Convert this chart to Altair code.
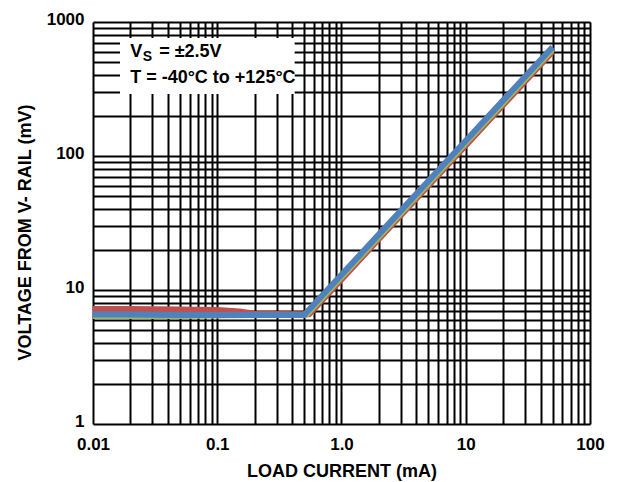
import altair as alt
import pandas as pd

# ---- axis ticks / labels ----
x_grid = [0.01, 0.02, 0.03, 0.04, 0.05, 0.06, 0.07, 0.08, 0.09,
          0.1, 0.2, 0.3, 0.4, 0.5, 0.6, 0.7, 0.8, 0.9,
          1, 2, 3, 4, 5, 6, 7, 8, 9,
          10, 20, 30, 40, 50, 60, 70, 80, 90, 100]
x_label_values = [0.01, 0.1, 1, 10, 100]
x_label_texts = ["0.01", "0.1", "1.0", "10", "100"]

y_grid = [1, 2, 3, 4, 5, 6, 7, 8, 9,
          10, 20, 30, 40, 50, 60, 70, 80, 90,
          100, 200, 300, 400, 500, 600, 700, 800, 900, 1000]
y_label_values = [1, 10, 100, 1000]
y_label_texts = ["1", "10", "100", "1000"]

# ---- series (load current mA, voltage from V- rail mV) ----
red_current = [0.01, 0.02, 0.05, 0.1, 0.15, 0.2, 0.55, 1, 2, 5, 10, 20, 50]
red_voltage = [7.2, 7.2, 7.15, 7.1, 6.9, 6.65, 6.6, 12, 24, 60, 120, 240, 600]

green_current = [0.01, 0.02, 0.05, 0.1, 0.2, 0.52, 1, 2, 5, 10, 20, 50]
green_voltage = [6.4, 6.4, 6.4, 6.45, 6.5, 6.5, 12.5, 25, 62.5, 125, 250, 625]

blue_current = [0.01, 0.02, 0.05, 0.1, 0.2, 0.5, 1, 2, 5, 10, 20, 50]
blue_voltage = [6.55, 6.55, 6.5, 6.5, 6.5, 6.5, 13, 26, 65, 130, 260, 650]

# ---- annotation box ----
box_x = [0.0165, 0.42]
box_y = [290, 760]
note_x = 0.0199
note_line1_y = 548
note_line2_y = 351

FONT = "Liberation Sans"


def label_expr(values, texts):
    parts = [f"datum.value == {v} ? '{t}'" for v, t in zip(values, texts)]
    return " : ".join(parts) + " : ''"


xscale = alt.Scale(type="log", domain=[0.01, 100], nice=False)
yscale = alt.Scale(type="log", domain=[1, 1000], nice=False)

x_axis = alt.Axis(values=x_grid, labelExpr=label_expr(x_label_values, x_label_texts),
                  grid=True, gridColor="black", gridWidth=2, gridOpacity=1,
                  ticks=False, tickSize=0, domain=False,
                  labelFont=FONT, labelFontSize=17, labelFontWeight="bold", labelColor="black",
                  labelPadding=12, labelBaseline="top", labelOverlap=False, labelFlush=False,
                  labelBound=False,
                  title="LOAD CURRENT (mA)", titleFont=FONT, titleFontSize=18,
                  titleFontWeight="bold", titleColor="black", titleY=47, titleBaseline="middle")

y_axis = alt.Axis(values=y_grid, labelExpr=label_expr(y_label_values, y_label_texts),
                  grid=True, gridColor="black", gridWidth=2, gridOpacity=1,
                  ticks=False, tickSize=0, domain=False,
                  labelFont=FONT, labelFontSize=17, labelFontWeight="bold", labelColor="black",
                  labelPadding=9, labelBaseline="middle", labelOffset=-3, labelOverlap=False,
                  labelFlush=False, labelBound=False,
                  title="VOLTAGE FROM V- RAIL (mV)", titleFont=FONT, titleFontSize=18,
                  titleFontWeight="bold", titleColor="black", titleX=-68, titleY=210,
                  titleBaseline="middle", titleAngle=270)


def series(cur, volt, color):
    df = pd.DataFrame({"current": cur, "voltage": volt})
    return alt.Chart(df).mark_line(color=color, strokeWidth=6, strokeJoin="round", clip=True).encode(
        x=alt.X("current:Q", scale=xscale, axis=x_axis),
        y=alt.Y("voltage:Q", scale=yscale, axis=y_axis),
    )


red = series(red_current, red_voltage, "#C0504D")
green = series(green_current, green_voltage, "#9BBB59")
blue = series(blue_current, blue_voltage, "#4F81BD")

box_df = pd.DataFrame({"x": [box_x[0]], "x2": [box_x[1]], "y": [box_y[0]], "y2": [box_y[1]]})
box = alt.Chart(box_df).mark_rect(fill="white").encode(
    x=alt.X("x:Q", scale=xscale), x2="x2:Q",
    y=alt.Y("y:Q", scale=yscale), y2="y2:Q",
)

t1 = pd.DataFrame({"x": [note_x], "y": [note_line1_y], "t": ["V"]})
t1s = pd.DataFrame({"x": [note_x], "y": [note_line1_y], "t": ["S"]})
t1r = pd.DataFrame({"x": [note_x], "y": [note_line1_y], "t": ["= ±2.5V"]})
t2 = pd.DataFrame({"x": [note_x], "y": [note_line2_y], "t": ["T = -40°C to +125°C"]})

def txt(df, size=18, dx=0, dy=0):
    return alt.Chart(df).mark_text(align="left", baseline="alphabetic", font=FONT,
                                   fontSize=size, fontWeight="bold", color="black",
                                   dx=dx, dy=dy).encode(
        x=alt.X("x:Q", scale=xscale), y=alt.Y("y:Q", scale=yscale), text="t:N")

chart = alt.layer(
    red, green, blue, box,
    txt(t1), txt(t1s, size=14, dx=12.5, dy=4), txt(t1r, dx=29), txt(t2),
).properties(
    width=497, height=402,
    autosize=alt.AutoSizeParams(type="none"),
    padding={"left": 93, "top": 22, "right": 28, "bottom": 58},
).configure_view(stroke="black", strokeWidth=2).configure(background="white")

chart.save("out.html", embed_options={"renderer": "svg", "actions": False})
